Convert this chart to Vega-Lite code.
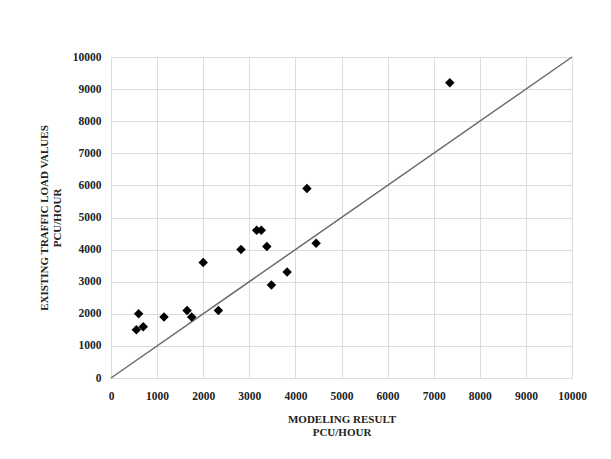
{
  "$schema": "https://vega.github.io/schema/vega-lite/v6.json",
  "autosize": {"type": "none"},
  "width": 461,
  "height": 321,
  "padding": {"left": 111, "right": 39, "top": 57, "bottom": 81},
  "background": "white",
  "config": {
    "view": {"stroke": "#dcdcdc", "strokeWidth": 1},
    "font": "Liberation Serif",
    "axis": {
      "grid": true,
      "gridColor": "#dcdcdc",
      "gridWidth": 1,
      "domain": false,
      "ticks": false,
      "labelOverlap": false,
      "labelFlush": false,
      "labelFont": "Liberation Serif",
      "labelFontWeight": "bold",
      "labelFontSize": 11.5,
      "labelColor": "#222222",
      "titleFont": "Liberation Serif",
      "titleFontWeight": "bold",
      "titleFontSize": 11,
      "titleColor": "#222222"
    }
  },
  "datasets": {
    "points": [
      {"model": 550, "existing": 1500},
      {"model": 600, "existing": 2000},
      {"model": 700, "existing": 1600},
      {"model": 1150, "existing": 1900},
      {"model": 1650, "existing": 2100},
      {"model": 1750, "existing": 1900},
      {"model": 2000, "existing": 3600},
      {"model": 2330, "existing": 2100},
      {"model": 2820, "existing": 4000},
      {"model": 3160, "existing": 4600},
      {"model": 3260, "existing": 4600},
      {"model": 3380, "existing": 4100},
      {"model": 3480, "existing": 2900},
      {"model": 3820, "existing": 3300},
      {"model": 4250, "existing": 5900},
      {"model": 4450, "existing": 4200},
      {"model": 7350, "existing": 9200}
    ],
    "line": [
      {"model": 0, "existing": 0},
      {"model": 10000, "existing": 10000}
    ]
  },
  "encoding": {
    "x": {
      "field": "model", "type": "quantitative",
      "scale": {"domain": [0, 10000], "nice": false},
      "axis": {"values": [0,1000,2000,3000,4000,5000,6000,7000,8000,9000,10000], "format": "d", "labelPadding": 12, "titlePadding": 12, "title": ["MODELING RESULT", "PCU/HOUR"]}
    },
    "y": {
      "field": "existing", "type": "quantitative",
      "scale": {"domain": [0, 10000], "nice": false},
      "axis": {"values": [0,1000,2000,3000,4000,5000,6000,7000,8000,9000,10000], "format": "d", "labelPadding": 10, "titlePadding": 10, "title": ["EXISTING TRAFFIC LOAD VALUES", "PCU/HOUR"]}
    }
  },
  "layer": [
    {
      "data": {"name": "line"},
      "mark": {"type": "line", "color": "#6b6b6b", "strokeWidth": 1.5}
    },
    {
      "data": {"name": "points"},
      "mark": {"type": "point", "shape": "diamond", "filled": true, "color": "#000000", "size": 90, "opacity": 1}
    }
  ]
}
